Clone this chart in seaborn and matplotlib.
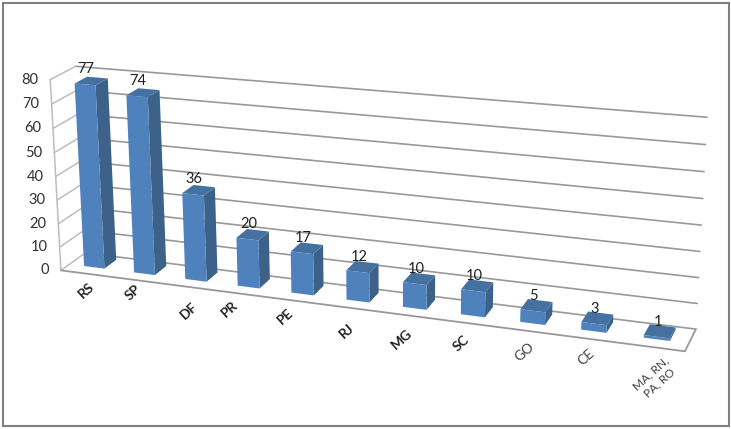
import numpy as np
import matplotlib
matplotlib.use("Agg")
import matplotlib.pyplot as plt
import seaborn as sns
from matplotlib.patches import Rectangle
from matplotlib.transforms import Transform, Affine2D

# ---- data ----
categories = ["RS", "SP", "DF", "PR", "PE", "RJ", "MG", "SC", "GO", "CE", "MA, RN,\nPA, RO"]
values = [77, 74, 36, 20, 17, 12, 10, 10, 5, 3, 1]
y_ticks = [0, 10, 20, 30, 40, 50, 60, 70, 80]

# ---- layout ----
W, H = 731, 429
XMIN, XMAX, YMIN, YMAX = -0.5, 10.5, 0, 80
BAR_W = 0.41
Z0, Z1 = 0.35, 0.85
C_FRONT, C_SIDE, C_TOP = "#4F81BD", "#3C6289", "#44719F"
C_GRID, C_WALL = "#999999", "#BDBDBD"
LABEL_XY = [(86, 291), (133, 293), (189, 311), (230, 309), (285, 317), (347, 331),
            (402, 339), (461, 343), (525, 352), (586, 357), (655, 378)]
LABEL_BOLD = [True] * 8 + [False] * 3

# corner calibration of the 3D box: (x, value, depth) -> picture pixel
corners = [((XMIN, 0, 0), (61, 268)), ((XMIN, 80, 0), (50, 78)),
           ((XMAX, 0, 0), (686, 352)), ((XMAX, 80, 0), (695, 138)),
           ((XMIN, 0, 1), (85, 255.5)), ((XMIN, 80, 1), (76, 67.5)),
           ((XMAX, 0, 1), (695, 328)), ((XMAX, 80, 1), (707.7, 114))]
A = []
for (X, Y, Z), (u, v) in corners:
    A.append([X, Y, Z, 1, 0, 0, 0, 0, -u * X, -u * Y, -u * Z, -u])
    A.append([0, 0, 0, 0, X, Y, Z, 1, -v * X, -v * Y, -v * Z, -v])
P = np.linalg.svd(np.array(A, float))[2][-1].reshape(3, 4)


class Proj(Transform):
    """Maps two data coordinates to the picture; the third is fixed."""
    input_dims = output_dims = 2

    def __init__(self, x=None, y=None, z=None):
        super().__init__()
        self.fixed = (x, y, z)

    def transform_non_affine(self, pts):
        pts = np.asarray(pts, float)
        a, b = pts[:, 0], pts[:, 1]
        x, y, z = self.fixed
        if z is not None:
            X, Y, Z = a, b, np.full_like(a, z)
        elif x is not None:      # side: (depth, value)
            X, Y, Z = np.full_like(a, x), b, a
        else:                    # top: (x, depth)
            X, Y, Z = a, np.full_like(a, y), b
        h = P @ np.column_stack([X, Y, Z, np.ones_like(a)]).T
        return (h[:2] / h[2]).T


to_disp = Affine2D().scale(1, -1).translate(0, H)


def tr(**kw):
    return Proj(**kw) + to_disp


sns.set_theme(style="white")
plt.rcParams["font.family"] = ["Lato", "DejaVu Sans"]
fig = plt.figure(figsize=(W / 100, H / 100), dpi=100, facecolor="white")
ax = fig.add_axes([0, 0, 1, 1])

# grid on back wall and left wall, floor
for t in y_ticks:
    ax.plot([XMIN, XMAX], [t, t], color=C_GRID, lw=1.2, transform=tr(z=1), clip_on=False, zorder=1)
    ax.plot([0, 1], [t, t], color=C_WALL, lw=1.1, transform=tr(x=XMIN), clip_on=False, zorder=1)
    ax.annotate(str(t), xy=(XMIN, t), xycoords=tr(z=0), xytext=(-12, 0), textcoords="offset pixels",
                ha="right", va="center", fontsize=10.5, color="#303030", annotation_clip=False)
ax.plot([XMIN, XMIN], [0, 80], color=C_WALL, lw=1.1, transform=tr(z=0), clip_on=False, zorder=1)
ax.plot([XMIN, XMAX, XMAX], [0, 0, 1], color=C_GRID, lw=1.3,
        transform=Proj(y=0) + to_disp, clip_on=False, zorder=1)

# front faces through seaborn
sns.barplot(x=categories, y=values, color=C_FRONT, saturation=1, width=BAR_W, ax=ax, zorder=3, linewidth=0)
front = list(ax.patches)
for p, cat, val in zip(front, categories, values):
    p.set_transform(tr(z=Z0))
    p.set_clip_on(False)
    x0, x1 = p.get_x(), p.get_x() + p.get_width()
    ax.add_patch(Rectangle((Z0, 0), Z1 - Z0, val, fc=C_SIDE, lw=0, transform=tr(x=x1), clip_on=False, zorder=2))
    ax.add_patch(Rectangle((x0, Z0), x1 - x0, Z1 - Z0, fc=C_TOP, lw=0, transform=tr(y=val), clip_on=False, zorder=2))
    ax.annotate(str(val), xy=((x0 + x1) / 2, val), xycoords=tr(z=Z0), xytext=(1, 15),
                textcoords="offset pixels", ha="center", va="center", fontsize=10.5, color="#202020",
                annotation_clip=False, zorder=5)

ax.set_xlim(XMIN, XMAX)
ax.set_ylim(YMIN, YMAX)
ax.axis("off")

for lab, (px, py), b in zip(categories, LABEL_XY, LABEL_BOLD):
    small = "\n" in lab
    fig.text(px / W, 1 - py / H, lab, rotation=42, rotation_mode="anchor", ha="center", va="center",
             fontsize=8.5 if small else 10, color="#252525" if b else "#404040",
             fontweight="bold" if b else "normal", linespacing=1.1, multialignment="center")

fig.add_artist(Rectangle((2.5 / W, 3.5 / H), 726.5 / W, 423 / H, transform=fig.transFigure, fc="none",
                         ec="#808080", lw=1.5))
fig.savefig("out.png", dpi=100)
